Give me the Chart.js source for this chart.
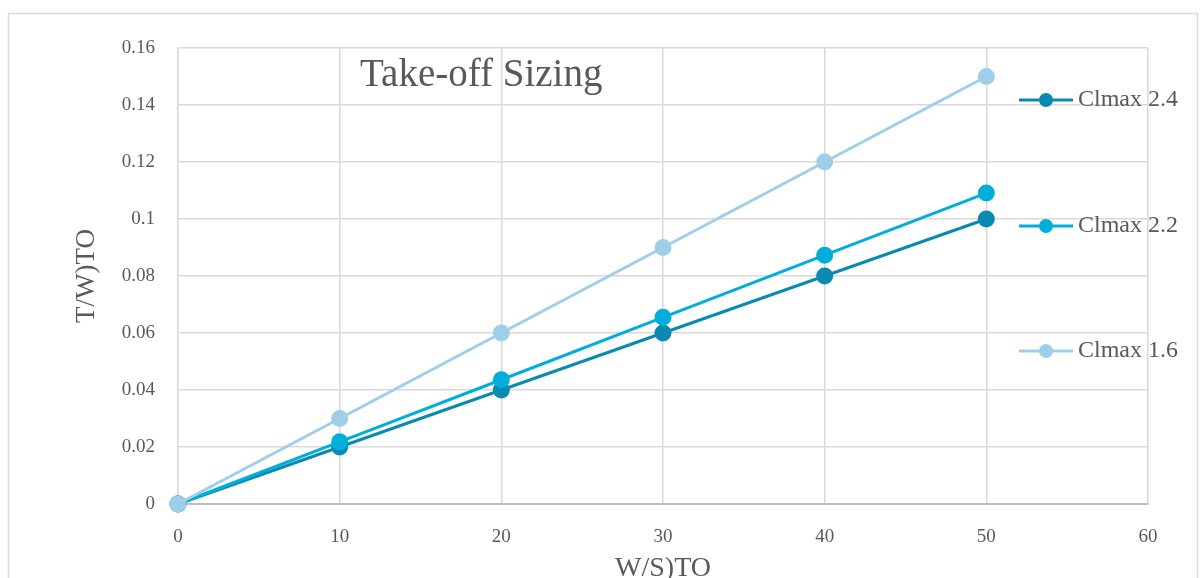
<!DOCTYPE html>
<html lang="en">
<head>
  <meta charset="UTF-8">
  <title>Take-off Sizing</title>
  <script src="https://cdn.jsdelivr.net/npm/chart.js"></script>
  <style>
    body {
      margin: 0;
      background: #ffffff;
      overflow: hidden;
    }
    canvas {
      display: block;
    }
  </style>
</head>
<body>

<canvas id="sizingChart" width="1201" height="578"></canvas>

<script>
  // W/S at take-off and the T/W needed for each Clmax
  const wsTO = [0, 10, 20, 30, 40, 50];
  const clmax24 = [0, 0.02, 0.04, 0.06, 0.08, 0.10];
  const clmax22 = [0, 0.0218, 0.0436, 0.0655, 0.0873, 0.1091];
  const clmax16 = [0, 0.03, 0.06, 0.09, 0.12, 0.15];
  const seriesLabels = ['Clmax 2.4', 'Clmax 2.2', 'Clmax 1.6'];
  const seriesColors = ['#0a8ab3', '#00aedb', '#9fcfe8'];

  const textColor = '#595959';
  const serif = "'Liberation Serif', 'DejaVu Serif', serif";

  const toPoints = (ys) => wsTO.map((x, i) => ({ x, y: ys[i] }));

  // outer frame of the chart
  const framePlugin = {
    id: 'frame',
    beforeDraw(chart) {
      const ctx = chart.ctx;
      ctx.save();
      ctx.fillStyle = '#ffffff';
      ctx.fillRect(0, 0, chart.width, chart.height);
      ctx.strokeStyle = '#d9d9d9';
      ctx.lineWidth = 1.5;
      ctx.strokeRect(8.5, 13.5, 1189, 600);
      ctx.restore();
    }
  };

  // title sits inside the plot area, over the grid
  const titlePlugin = {
    id: 'insideTitle',
    afterDatasetsDraw(chart) {
      const ctx = chart.ctx;
      ctx.save();
      ctx.font = '39px ' + serif;
      ctx.fillStyle = textColor;
      ctx.textBaseline = 'alphabetic';
      ctx.textAlign = 'left';
      ctx.fillText('Take-off Sizing', 360, 86);
      ctx.restore();
    }
  };

  // legend entries spread down the right side
  const legendPlugin = {
    id: 'sideLegend',
    afterDraw(chart) {
      const ctx = chart.ctx;
      const rows = [100, 226, 351];
      ctx.save();
      chart.data.datasets.forEach((ds, i) => {
        const y = rows[i];
        ctx.strokeStyle = ds.borderColor;
        ctx.lineWidth = 3;
        ctx.beginPath();
        ctx.moveTo(1019, y);
        ctx.lineTo(1073, y);
        ctx.stroke();
        ctx.fillStyle = ds.borderColor;
        ctx.beginPath();
        ctx.arc(1046, y, 7, 0, Math.PI * 2);
        ctx.fill();
        ctx.font = '24px ' + serif;
        ctx.fillStyle = textColor;
        ctx.textBaseline = 'middle';
        ctx.textAlign = 'left';
        ctx.fillText(ds.label, 1078, y);
      });
      ctx.restore();
    }
  };

  const makeSet = (label, ys, color, order) => ({
    label,
    data: toPoints(ys),
    borderColor: color,
    backgroundColor: color,
    pointBackgroundColor: color,
    pointBorderColor: color,
    borderWidth: 3,
    pointRadius: 7,
    pointHoverRadius: 7,
    tension: 0,
    clip: false,
    order
  });

  new Chart(document.getElementById('sizingChart').getContext('2d'), {
    type: 'line',
    data: {
      datasets: [
        makeSet(seriesLabels[0], clmax24, seriesColors[0], 3),
        makeSet(seriesLabels[1], clmax22, seriesColors[1], 2),
        makeSet(seriesLabels[2], clmax16, seriesColors[2], 1)
      ]
    },
    options: {
      responsive: false,
      animation: false,
      layout: {
        padding: { top: 48, right: 53, left: 0, bottom: 0 }
      },
      plugins: {
        legend: { display: false },
        tooltip: { enabled: false }
      },
      scales: {
        x: {
          type: 'linear',
          min: 0,
          max: 60,
          ticks: {
            stepSize: 10,
            padding: 22,
            color: textColor,
            font: { family: serif, size: 19 }
          },
          grid: { color: '#d9d9d9', lineWidth: 1.5, drawTicks: false },
          border: { color: '#bfbfbf', width: 2 },
          title: {
            display: true,
            text: 'W/S)TO',
            color: textColor,
            font: { family: serif, size: 28, lineHeight: 0.65 },
            padding: { top: 0, bottom: 0 }
          },
          afterFit(scale) { scale.height = 74; }
        },
        y: {
          min: 0,
          max: 0.16,
          ticks: {
            stepSize: 0.02,
            padding: 23,
            color: textColor,
            font: { family: serif, size: 19 },
            callback: (v) => String(Math.round(v * 100) / 100)
          },
          grid: { color: '#d9d9d9', lineWidth: 1.5, drawTicks: false },
          border: { color: '#d9d9d9', width: 1.5 },
          title: {
            display: true,
            text: 'T/W)TO',
            color: textColor,
            font: { family: serif, size: 27, lineHeight: 1.2 },
            padding: { top: 71, bottom: 0 }
          },
          afterFit(scale) { scale.width = 178; }
        }
      }
    },
    plugins: [framePlugin, titlePlugin, legendPlugin]
  });
</script>

</body>
</html>
